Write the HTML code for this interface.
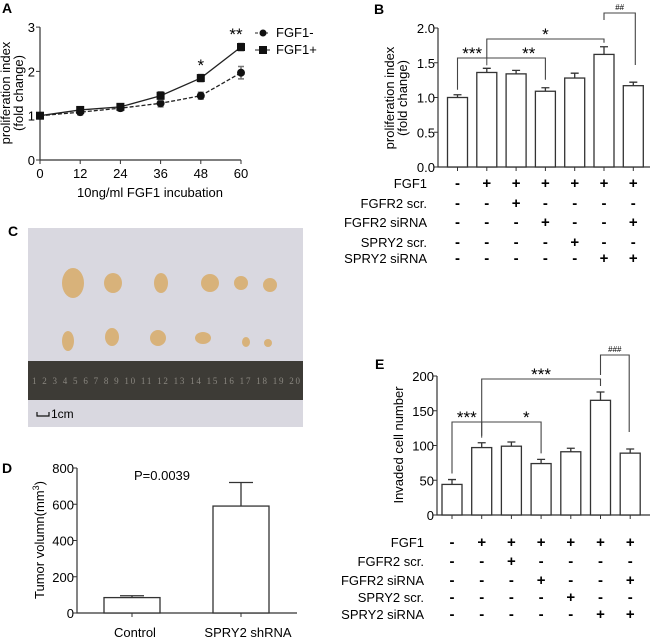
<!DOCTYPE html>
<html><head><meta charset="utf-8"><style>
body{margin:0;background:#fff}
svg{display:block;font-family:"Liberation Sans",Arial,sans-serif}
</style></head><body>
<svg id="fig" width="650" height="641" viewBox="0 0 650 641">
<g id="pa"></g>
<g id="pb"></g>
<g id="pc">
 <text x="8" y="236" font-size="14" font-weight="bold">C</text>
 <rect x="28" y="228" width="275" height="199" fill="#d9d8e0"/>
 <rect x="28" y="361" width="275" height="39" fill="#3d3b36"/>
 <text x="32" y="384" font-family="Liberation Serif" font-size="9" fill="#8a8780" textLength="268">1 2 3 4 5 6 7 8 9 10 11 12 13 14 15 16 17 18 19 20</text>
 <path d="M37,412 v4 h12 v-4" fill="none" stroke="#111" stroke-width="1.2"/>
 <text x="51" y="418" font-size="12">1cm</text>
 <g fill="#d8b27a">
  <ellipse cx="73" cy="283" rx="11" ry="15"/><ellipse cx="113" cy="283" rx="9" ry="10"/><ellipse cx="161" cy="283" rx="7" ry="10"/>
  <ellipse cx="210" cy="283" rx="9" ry="9"/><ellipse cx="241" cy="283" rx="7" ry="7"/><ellipse cx="270" cy="285" rx="7" ry="7"/>
  <ellipse cx="68" cy="341" rx="6" ry="10"/><ellipse cx="112" cy="337" rx="7" ry="9"/><ellipse cx="158" cy="338" rx="8" ry="8"/>
  <ellipse cx="203" cy="338" rx="8" ry="6"/><ellipse cx="246" cy="342" rx="4" ry="5"/><ellipse cx="268" cy="343" rx="4" ry="4"/>
 </g>
</g>
<g id="pd"></g>
<g id="pe"></g>
</svg>
<script>
const NS="http://www.w3.org/2000/svg";
function el(p,t,a,txt){const e=document.createElementNS(NS,t);for(const k in a)e.setAttribute(k,a[k]);if(txt!==undefined)e.textContent=txt;p.appendChild(e);return e;}
const C="#333";

// Panel A data
const aTimes=[0,12,24,36,48,60];
const aMinus=[1,1.08,1.17,1.28,1.45,1.97];
const aMinusErr=[0.04,0.06,0.06,0.08,0.08,0.14];
const aPlus=[1,1.13,1.2,1.45,1.85,2.55];
const aPlusErr=[0.04,0.06,0.06,0.09,0.08,0.08];
const aYTicks=[0,1,2,3];

// Panel B data
const bVals=[1.0,1.36,1.34,1.09,1.28,1.62,1.17];
const bErr=[0.04,0.06,0.05,0.05,0.07,0.11,0.05];
const bYTicks=["0.0","0.5","1.0","1.5","2.0"];
const rowLabels=["FGF1","FGFR2 scr.","FGFR2 siRNA","SPRY2 scr.","SPRY2 siRNA"];
const rowSigns=["-++++++","--+----","---+--+","----+--","-----++"];

// Panel D data
const dCats=["Control","SPRY2 shRNA"];
const dVals=[85,590];
const dErr=[10,130];
const dYTicks=[0,200,400,600,800];

// Panel E data
const eVals=[44,97,99,74,91,165,89];
const eErr=[7,7,6,6,5,12,6];
const eYTicks=[0,50,100,150,200];

// ---------- Panel A ----------
(function(){
 const g=document.getElementById('pa');
 const x=v=>40+v*(201/60), y=v=>160-v*44.3;
 let t=el(g,'text',{x:2,y:13,'font-size':14,'font-weight':'bold'},'A');
 
 let ax=el(g,'path',{d:`M40,${y(3)}V160H${x(60)}`,fill:'none',stroke:C,'stroke-width':1.2});
 
 aYTicks.forEach(v=>{el(g,'line',{x1:36,x2:40,y1:y(v),y2:y(v),stroke:C});
  const tt=el(g,'text',{x:35,y:y(v)+5,'font-size':13,'text-anchor':'end'},v);
  });
 aTimes.forEach(v=>{el(g,'line',{x1:x(v),x2:x(v),y1:160,y2:164,stroke:C});
  const tt=el(g,'text',{x:x(v),y:178,'font-size':13,'text-anchor':'middle'},v);
  });
 let xt=el(g,'text',{x:150,y:197,'font-size':13,'text-anchor':'middle'},'10ng/ml FGF1 incubation');
 
 let yt=el(g,'text',{transform:'translate(12,93) rotate(-90)','font-size':13,'text-anchor':'middle'});
 
 el(yt,'tspan',{x:0,dy:-2},'proliferation index');el(yt,'tspan',{x:0,dy:13},'(fold change)');
 function series(vals,errs,dash,sq,name){
  const s=el(g,'g',{});
  el(s,'polyline',{points:vals.map((v,i)=>x(aTimes[i])+','+y(v)).join(' '),fill:'none',stroke:'#222','stroke-width':1.3,'stroke-dasharray':dash});
  vals.forEach((v,i)=>{const cx=x(aTimes[i]);
   el(s,'path',{d:`M${cx},${y(v+errs[i])}V${y(v-errs[i])}M${cx-3},${y(v+errs[i])}h6M${cx-3},${y(v-errs[i])}h6`,stroke:'#777','stroke-width':1.5});
   const m=sq?el(s,'rect',{x:cx-4,y:y(v)-4,width:8,height:8,fill:'#111'}):el(s,'circle',{cx:cx,cy:y(v),r:4,fill:'#111'});
   });
 }
 series(aMinus,aMinusErr,'4,2',false,'series-fgf1-minus');
 series(aPlus,aPlusErr,'none',true,'series-fgf1-plus');
 let s1=el(g,'text',{x:x(48),y:71,'font-size':17,'text-anchor':'middle'},'*');
 let s2=el(g,'text',{x:x(60)-5,y:40,'font-size':17,'text-anchor':'middle'},'**');
 const lg=el(g,'g',{});
 el(lg,'line',{x1:255,x2:270,y1:33,y2:33,stroke:'#222','stroke-dasharray':'3,2'});el(lg,'circle',{cx:263,cy:33,r:3.5,fill:'#111'});
 el(lg,'text',{x:276,y:37,'font-size':13},'FGF1-');
 el(lg,'line',{x1:255,x2:270,y1:50,y2:50,stroke:'#222'});el(lg,'rect',{x:259,y:46,width:8,height:8,fill:'#111'});
 el(lg,'text',{x:276,y:54,'font-size':13},'FGF1+');
})();

// ---------- generic bar panel ----------
function barPanel(id,opt){
 const g=document.getElementById(id);
 const y=v=>opt.y0-(v/opt.max)*(opt.y0-opt.yTop);
 const bx=i=>opt.x0+opt.first+i*opt.step;
 el(g,'path',{d:`M${opt.x0},${opt.yTop}V${opt.y0}H${opt.xEnd}`,fill:'none',stroke:C,'stroke-width':1.2});
 opt.ticks.forEach(tv=>{const v=parseFloat(tv);el(g,'line',{x1:opt.x0-4,x2:opt.x0,y1:y(v),y2:y(v),stroke:C});
  const tt=el(g,'text',{x:opt.x0-3,y:y(v)+5,'font-size':13,'text-anchor':'end'},tv);
  });
 opt.vals.forEach((v,i)=>{const cx=bx(i),w=opt.bw;
  el(g,'path',{d:`M${cx},${y(v)}V${y(v+opt.err[i])}M${cx-4},${y(v+opt.err[i])}h8`,stroke:C,'stroke-width':1.3});
  const r=el(g,'rect',{x:cx-w/2,y:y(v),width:w,height:opt.y0-y(v),fill:'#fff',stroke:C,'stroke-width':1.3});
  
  el(g,'line',{x1:cx,x2:cx,y1:opt.y0,y2:opt.y0+4,stroke:C});});
 return {y,bx,g};
}
function bracket(g,x1,x2,yb,d1,d2,label,fs,name){
 const b=el(g,'g',{});
 el(b,'path',{d:`M${x1},${d1}V${yb}H${x2}V${d2}`,fill:'none',stroke:'#444','stroke-width':1.1});
 el(b,'text',{x:(x1+x2)/2,y:yb-(fs>12?-2:3),'font-size':fs,'text-anchor':'middle'},label);
}
function table(g,bx,rows,xLab,fs){
 rowLabels.forEach((l,r)=>{const t=el(g,'text',{x:xLab,y:rows[r]+5,'font-size':fs,'text-anchor':'end'},l);
  
  rowSigns[r].split('').forEach((s,i)=>{const tt=el(g,'text',{x:bx(i),y:rows[r]+5,'font-size':15,'font-weight':'bold','text-anchor':'middle'},s==='+'?'+':'-');
   });});
}

// ---------- Panel B ----------
(function(){
 const p=barPanel('pb',{x0:438,xEnd:650,yTop:28,y0:167,max:2,first:19.5,step:29.3,bw:20,vals:bVals,err:bErr,ticks:bYTicks});
 const g=p.g,y=p.y,bx=p.bx;
 let t=el(g,'text',{x:374,y:14,'font-size':14,'font-weight':'bold'},'B');
 let yt=el(g,'text',{transform:'translate(396,98) rotate(-90)','font-size':13,'text-anchor':'middle'});
 
 el(yt,'tspan',{x:0,dy:-2},'proliferation index');el(yt,'tspan',{x:0,dy:13},'(fold change)');
 bracket(g,bx(0),bx(3),58,y(bVals[0]+bErr[0])-5,y(bVals[3]+bErr[3])-8,'',12,'bracket-ctrl-vs-siRNA');
 el(g,'line',{x1:bx(1),x2:bx(1),y1:58,y2:y(bVals[1]+bErr[1])-3,stroke:'#444'});
 el(g,'text',{x:(bx(0)+bx(1))/2,y:59,'font-size':17,'text-anchor':'middle'},'***');
 el(g,'text',{x:(bx(2)+bx(3))/2-2,y:59,'font-size':17,'text-anchor':'middle'},'**');
 bracket(g,bx(1),bx(5),39,58,y(bVals[5]+bErr[5])-4,'',12,'bracket-fgf1-vs-spry2');
 el(g,'text',{x:(bx(1)+bx(5))/2,y:40,'font-size':17,'text-anchor':'middle'},'*');
 bracket(g,bx(5),bx(6)+2,13,20,65,'##',8,'bracket-hash');
 table(g,bx,[183,203,222,242,258],427,13);
})();

// ---------- Panel D ----------
(function(){
 const g=document.getElementById('pd');
 const y0=613,yTop=468,x0=77,y=v=>y0-v/800*(y0-yTop);
 const bx=[132,241];
 let t=el(g,'text',{x:2,y:473,'font-size':14,'font-weight':'bold'},'D');
 el(g,'path',{d:`M${x0},${yTop}V${y0}H297`,fill:'none',stroke:C,'stroke-width':1.2});
 dYTicks.forEach(v=>{el(g,'line',{x1:x0-4,x2:x0,y1:y(v),y2:y(v),stroke:C});
  const tt=el(g,'text',{x:x0-3,y:y(v)+5,'font-size':13,'text-anchor':'end'},v);});
 dVals.forEach((v,i)=>{
  el(g,'path',{d:`M${bx[i]},${y(v)}V${y(v+dErr[i])}M${bx[i]-12},${y(v+dErr[i])}h24`,stroke:C,'stroke-width':1.3});
  const r=el(g,'rect',{x:bx[i]-28,y:y(v),width:56,height:y0-y(v),fill:'#fff',stroke:C,'stroke-width':1.3});
  
  el(g,'line',{x1:bx[i],x2:bx[i],y1:y0,y2:y0+4,stroke:C});
  const l=el(g,'text',{x:bx[i]+(i?7:3),y:637,'font-size':13,'text-anchor':'middle'},dCats[i]);});
 let p=el(g,'text',{x:162,y:480,'font-size':13,'text-anchor':'middle'},'P=0.0039');
 let yt=el(g,'text',{transform:'translate(44,540) rotate(-90)','font-size':13,'text-anchor':'middle'});
 
 yt.innerHTML='Tumor volumn(mm<tspan dy="-5" font-size="9">3</tspan><tspan dy="5">)</tspan>';
})();

// ---------- Panel E ----------
(function(){
 const p=barPanel('pe',{x0:437,xEnd:650,yTop:376,y0:515,max:200,first:15,step:29.7,bw:20,vals:eVals,err:eErr,ticks:eYTicks.map(String)});
 const g=p.g,y=p.y,bx=p.bx;
 let t=el(g,'text',{x:375,y:369,'font-size':14,'font-weight':'bold'},'E');
 let yt=el(g,'text',{transform:'translate(403,445) rotate(-90)','font-size':13,'text-anchor':'middle'},'Invaded cell number');
 
 bracket(g,bx(0),bx(3),422,y(eVals[0]+eErr[0])-6,y(eVals[3]+eErr[3])-6,'',12,'bracket-ctrl-vs-siRNA');
 el(g,'line',{x1:bx(1),x2:bx(1),y1:422,y2:y(eVals[1]+eErr[1])-5,stroke:'#444'});
 el(g,'text',{x:(bx(0)+bx(1))/2,y:423,'font-size':17,'text-anchor':'middle'},'***');
 el(g,'text',{x:(bx(2)+bx(3))/2,y:423,'font-size':17,'text-anchor':'middle'},'*');
 bracket(g,bx(1),bx(5),379,y(eVals[1]+eErr[1])-7,y(eVals[5]+eErr[5])-6,'',12,'bracket-fgf1-vs-spry2');
 el(g,'text',{x:(bx(1)+bx(5))/2,y:380,'font-size':17,'text-anchor':'middle'},'***');
 bracket(g,bx(5),bx(6)-1,355,375,432,'###',8,'bracket-hash');
 table(g,bx,[542,561,580,597,614],424,13);
})();
</script>
</body></html>
